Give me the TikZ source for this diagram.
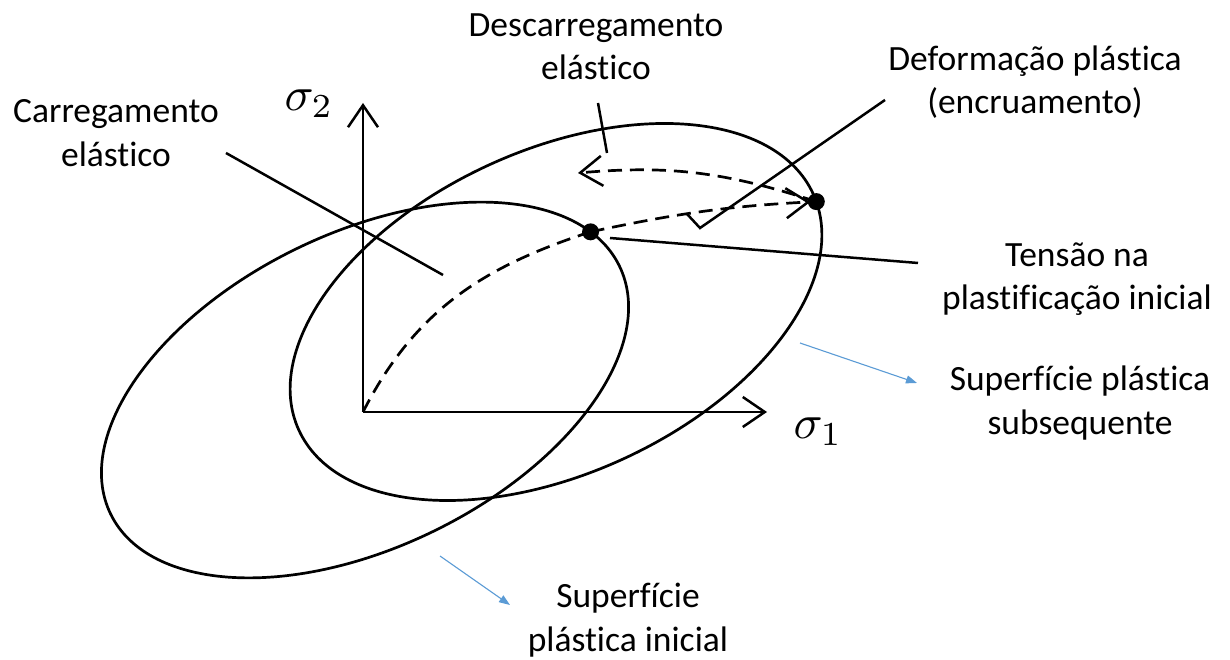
\documentclass[tikz,border=0pt]{standalone}
\usepackage{fontspec}
\setmainfont{Carlito}[Ligatures=NoCommon]
\usetikzlibrary{arrows.meta,calc}
\definecolor{hint}{HTML}{5B9BD5}

\begin{document}
\begin{tikzpicture}[x=1pt,y=1pt,
  surf/.style={line width=2.7pt},
  lead/.style={line width=2.5pt},
  barb/.style={-{Straight Barb[length=22pt,width=30pt,line width=2.5pt]}},
  route/.style={line width=2.7pt,dash pattern=on 14pt off 8pt},
  hintarrow/.style={hint,line width=1.1pt,-{Triangle[length=11pt,width=8pt]}},
  lbl/.style={font=\fontsize{35.5}{43.4}\selectfont,align=center},
  sig/.style={scale=4.8}]
  \useasboundingbox (0,0) rectangle (1230,660);
  % initial and subsequent yield surfaces
  \begin{scope}[rotate around={26:(365,270)}]
    \draw[surf] (365,270) ellipse (283pt and 157pt);
    \coordinate (yield1) at ($(365,270)+(16:283pt and 157pt)$);
  \end{scope}
  \begin{scope}[rotate around={24.7:(556,348)}]
    \draw[surf] (556,348) ellipse (283pt and 161.6pt);
    \coordinate (yield2) at ($(556,348)+(-3:283pt and 161.6pt)$);
  \end{scope}
  % axes
  \coordinate (O) at (363,248);
  \coordinate (ytip) at (363,557);
  \coordinate (xtip) at (767,248);
  \draw[surf,barb] (O) -- (ytip);
  \draw[surf,barb] (O) -- (xtip);
  \node[sig] (s2) at (309,556) {$\sigma_2$};
  \node[sig] (s1) at (818,228) {$\sigma_1$};
  % loading and unloading paths
  \coordinate (back) at (578,487);
  \draw[route] (O) to[out=63,in=198] (yield1);
  \draw[route,barb,shorten >=6pt] (yield1) to[out=12,in=183] (yield2);
  \draw[route,barb] (yield2) to[out=162,in=5] (back);
  \fill (yield1) circle (8.5pt);
  \fill (yield2) circle (8.5pt);
  % labels
  \node[lbl] (carr) at (116,527) {Carregamento\\elástico};
  \node[lbl] (descarr) at (596,613) {Descarregamento\\elástico};
  \node[lbl] (deform) at (1035,578) {Deformação plástica\\(encruamento)};
  \node[lbl] (tensao) at (1077,381) {Tensão na\\plastificação inicial};
  \node[lbl] (subseq) at (1080,257) {Superfície plástica\\subsequente};
  \node[lbl] (inicial) at (628,40) {Superfície\\plástica inicial};
  % leaders
  \coordinate (carrA) at (226,507);
  \coordinate (carrB) at (443,385);
  \coordinate (descA) at (598,557);
  \coordinate (descB) at (607,507);
  \coordinate (defA) at (885,560);
  \coordinate (defB) at (700,432);
  \coordinate (defC) at (687,446);
  \coordinate (tenA) at (610,422);
  \coordinate (tenB) at (918,397);
  \draw[lead] (carrA) -- (carrB);
  \draw[lead] (descA) -- (descB);
  \draw[lead] (defA) -- (defB) -- (defC);
  \draw[lead] (tenA) -- (tenB);
  \coordinate (subA) at (800,317);
  \coordinate (subB) at (917,277);
  \coordinate (iniA) at (440,104);
  \coordinate (iniB) at (510,55);
  \draw[hintarrow] (subA) -- (subB);
  \draw[hintarrow] (iniA) -- (iniB);
\end{tikzpicture}
\end{document}
